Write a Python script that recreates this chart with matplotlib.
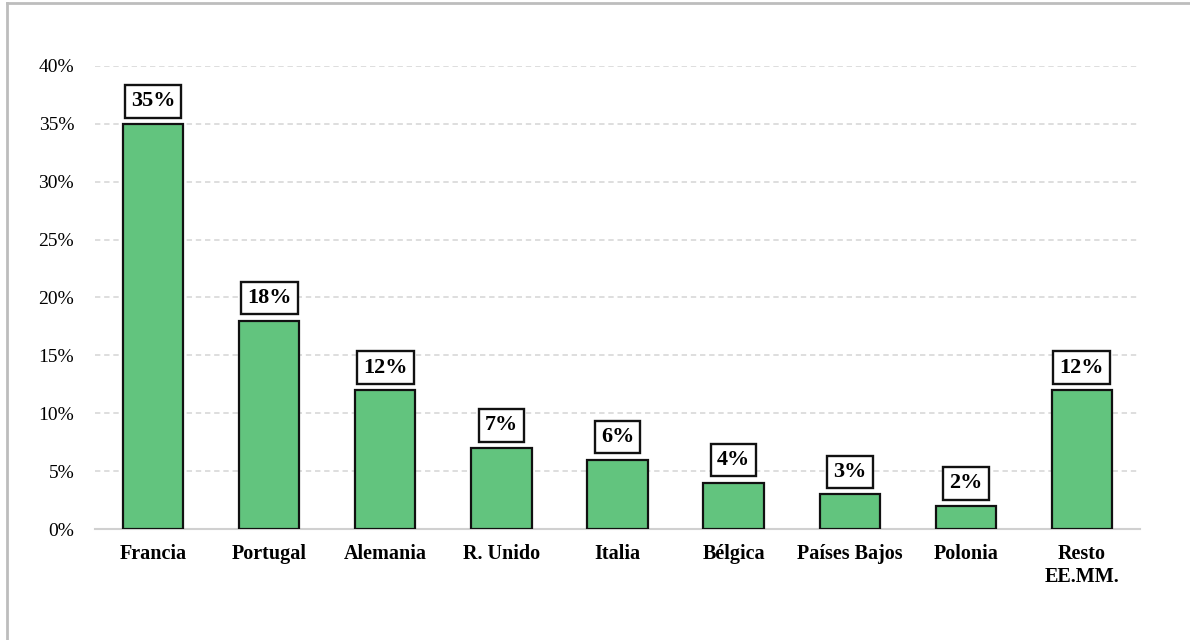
import matplotlib.pyplot as plt
from matplotlib.lines import Line2D

paises = ['Francia', 'Portugal', 'Alemania', 'R. Unido', 'Italia', 'Bélgica',
          'Países Bajos', 'Polonia', 'Resto\nEE.MM.']
valores = [35, 18, 12, 7, 6, 4, 3, 2, 12]
ticks_y = [0, 5, 10, 15, 20, 25, 30, 35, 40]

plt.rcParams['font.family'] = ['Liberation Serif', 'DejaVu Serif']

fig = plt.figure(figsize=(11.9, 6.4), dpi=100)
ax = fig.add_axes([0.0798, 0.1734, 0.8782, 0.7236])

x = list(range(len(paises)))
ax.bar(x, valores, width=0.52, color='#62C47E', edgecolor='#111111', linewidth=1.6, zorder=3)

# etiquetas con recuadro encima de cada barra
for xi, v in zip(x, valores):
    ax.annotate(f'{v}%', (xi, v), xytext=(0, 9), textcoords='offset points',
                ha='center', va='bottom', fontsize=16, fontweight='bold',
                bbox=dict(boxstyle='square,pad=0.28', fc='white', ec='#111111', lw=1.7),
                zorder=4, annotation_clip=False)

ax.set_xlim(-0.5, 8.5)
ax.set_ylim(0, 40)
ax.set_yticks(ticks_y)
ax.set_yticklabels([f'{t}%' for t in ticks_y], fontsize=14)
ax.set_xticks(x)
ax.set_xticklabels(paises, fontsize=14.5, fontweight='bold')
ax.tick_params(axis='both', length=0)
ax.tick_params(axis='y', pad=15)
ax.tick_params(axis='x', pad=11)

ax.grid(axis='y', color='#d4d4d4', linestyle=(0, (3.5, 2.5)), linewidth=1.1, zorder=0)
for s in ['top', 'right', 'left']:
    ax.spines[s].set_visible(False)
ax.spines['bottom'].set_color('#d0d0d0')
ax.spines['bottom'].set_linewidth(1.5)

# borde gris del recuadro
fig.add_artist(Line2D([0.0055, 0.0055], [0, 0.995], color='#bdbdbd', lw=2))
fig.add_artist(Line2D([0.0055, 1], [0.995, 0.995], color='#bdbdbd', lw=2))

plt.savefig('out.png')
